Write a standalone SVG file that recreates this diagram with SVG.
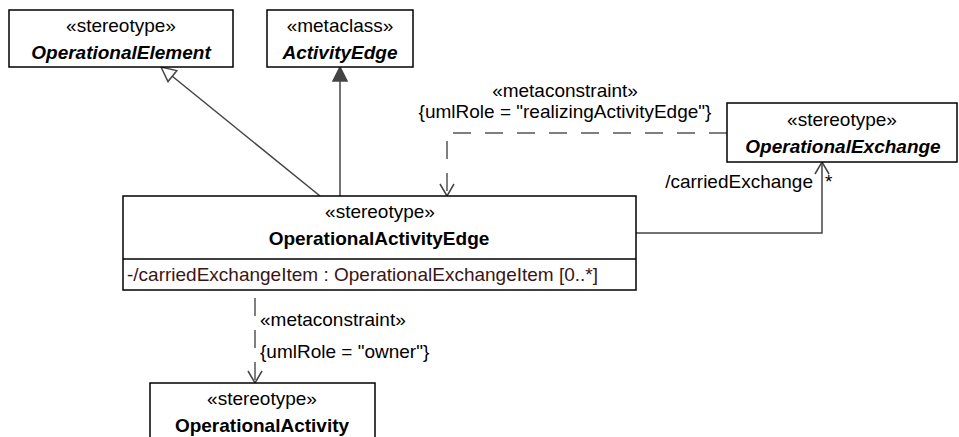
<svg xmlns="http://www.w3.org/2000/svg" width="959" height="437" viewBox="0 0 959 437">
<style>
.box{fill:#fff;stroke:#000;stroke-width:1.5}
.t{font-family:"Liberation Sans",Arial,sans-serif;font-size:19px;fill:#000}
.c{text-anchor:middle}
.b{font-weight:bold}
.bi{font-weight:bold;font-style:italic}
.attr{fill:#3a1515}
.ln{fill:none;stroke:#444;stroke-width:1.5}
.dash{fill:none;stroke:#555;stroke-width:1.5;stroke-dasharray:18 14}
</style>
<rect width="959" height="437" fill="#fff"/>
<g id="connectors">
  <g id="gen-operationalelement">
    <line class="ln" x1="320" y1="196" x2="172" y2="76"/>
    <polygon points="161,67 168,81.5 176.8,70.6" fill="#fff" stroke="#444" stroke-width="1.5"/>
  </g>
  <g id="ext-activityedge">
    <line class="ln" x1="340" y1="196" x2="340" y2="81"/>
    <polygon points="340,67 333,81 347,81" fill="#444" stroke="#444" stroke-width="1.5"/>
  </g>
  <g id="realizing">
    <path class="dash" d="M727,133 H447 V196"/>
    <path class="ln" d="M440,184 L447,196 L454,184"/>
    <text class="t c" x="565" y="97">«metaconstraint»</text>
    <text class="t c" x="565" y="118">{umlRole = "realizingActivityEdge"}</text>
  </g>
  <g id="carried">
    <path class="ln" d="M636,233 H822 V162"/>
    <path class="ln" d="M815,174 L822,162 L829,174"/>
    <text class="t" x="813" y="188" text-anchor="end">/carriedExchange</text>
    <text class="t" x="825" y="188">*</text>
  </g>
  <g id="owner">
    <path class="dash" d="M255,290 V383" style="stroke-dashoffset:-8"/>
    <path class="ln" d="M248,371 L255,383 L262,371"/>
    <text class="t" x="260" y="326">«metaconstraint»</text>
    <text class="t" x="260" y="358">{umlRole = "owner"}</text>
  </g>
</g>
<g id="OperationalElement">
  <rect class="box" x="9" y="10" width="224" height="57"/>
  <text class="t c" x="121" y="32">«stereotype»</text>
  <text class="t c bi" x="121" y="59">OperationalElement</text>
</g>
<g id="ActivityEdge">
  <rect class="box" x="267" y="10" width="146" height="57"/>
  <text class="t c" x="340" y="32">«metaclass»</text>
  <text class="t c bi" x="340" y="59">ActivityEdge</text>
</g>
<g id="OperationalExchange">
  <rect class="box" x="727" y="103" width="230" height="59"/>
  <text class="t c" x="842" y="126">«stereotype»</text>
  <text class="t c bi" x="843" y="153">OperationalExchange</text>
</g>
<g id="OperationalActivityEdge">
  <rect class="box" x="123" y="196" width="513" height="94"/>
  <line x1="123" y1="259" x2="636" y2="259" stroke="#000" stroke-width="1.5"/>
  <text class="t c" x="380" y="218">«stereotype»</text>
  <text class="t c b" x="379" y="245">OperationalActivityEdge</text>
  <text class="t attr" x="127" y="281">-/carriedExchangeItem : OperationalExchangeItem [0..*]</text>
</g>
<g id="OperationalActivity">
  <rect class="box" x="150" y="383" width="225" height="70"/>
  <text class="t c" x="262" y="405">«stereotype»</text>
  <text class="t c b" x="262" y="432">OperationalActivity</text>
</g>
</svg>
